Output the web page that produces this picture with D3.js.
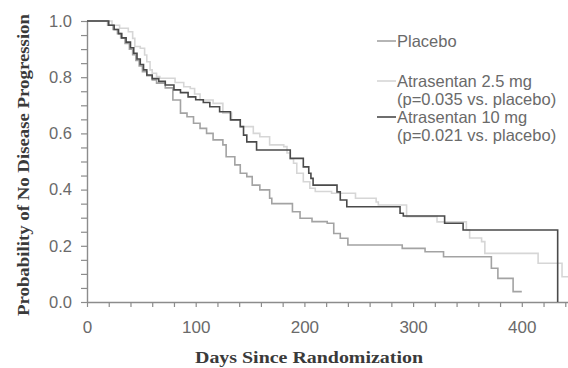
<!DOCTYPE html>
<html>
<head>
<meta charset="utf-8">
<script src="https://cdn.jsdelivr.net/npm/d3@7"></script>
<style>
  body { margin: 0; background: #fff; }
  svg { display: block; }
</style>
</head>
<body>
<div id="chart"></div>
<script>
let width = 568;
let height = 368;

// 数据: Kaplan-Meier 曲线 (天数, 无进展概率)
let placeboDays = [0, 19, 24, 28, 31, 35, 39, 42, 45, 48, 51, 55, 60, 64, 72, 79, 86, 92, 98, 104, 110, 116, 125, 128, 136, 141, 147, 152, 159, 168, 170, 189, 196, 207, 221, 227, 233, 240, 290, 311, 328, 372, 378, 392, 400];
let placeboSurv = [1.0, 0.985, 0.97, 0.955, 0.94, 0.92, 0.9, 0.88, 0.86, 0.84, 0.82, 0.805, 0.79, 0.779, 0.762, 0.719, 0.672, 0.659, 0.636, 0.618, 0.6, 0.577, 0.559, 0.517, 0.488, 0.458, 0.446, 0.416, 0.399, 0.369, 0.35, 0.321, 0.298, 0.286, 0.28, 0.244, 0.227, 0.203, 0.191, 0.179, 0.161, 0.12, 0.084, 0.037, 0.037];

let dose25Days = [0, 23, 30, 38, 42, 44, 49, 53, 55, 58, 60, 64, 67, 81, 89, 95, 99, 104, 116, 125, 133, 141, 153, 159, 168, 181, 184, 187, 190, 193, 199, 205, 210, 225, 247, 266, 268, 294, 322, 349, 352, 363, 366, 415, 437, 443];
let dose25Surv = [1.0, 0.985, 0.974, 0.962, 0.938, 0.909, 0.903, 0.879, 0.855, 0.826, 0.814, 0.802, 0.796, 0.781, 0.766, 0.76, 0.74, 0.719, 0.707, 0.672, 0.648, 0.624, 0.6, 0.588, 0.559, 0.553, 0.53, 0.51, 0.494, 0.458, 0.428, 0.405, 0.393, 0.387, 0.369, 0.356, 0.345, 0.304, 0.285, 0.256, 0.228, 0.215, 0.173, 0.138, 0.09, 0.09];

let dose10Days = [0, 20, 25, 29, 32, 36, 40, 43, 46, 49, 52, 55, 60, 66, 72, 80, 86, 93, 100, 107, 113, 122, 132, 141, 144, 147, 156, 187, 199, 204, 206, 208, 230, 233, 239, 288, 291, 329, 346, 433];
let dose10Surv = [1.0, 0.985, 0.97, 0.955, 0.94, 0.925, 0.905, 0.885, 0.865, 0.845, 0.826, 0.808, 0.795, 0.785, 0.772, 0.755, 0.745, 0.73, 0.72, 0.71, 0.695, 0.677, 0.648, 0.624, 0.594, 0.57, 0.541, 0.511, 0.481, 0.458, 0.44, 0.416, 0.392, 0.363, 0.339, 0.316, 0.306, 0.28, 0.256, 0];

let seriesNames = ["Placebo", "Atrasentan 2.5 mg", "Atrasentan 10 mg"];
let seriesNotes = ["", "(p=0.035 vs. placebo)", "(p=0.021 vs. placebo)"];
let seriesColors = ["#a3a3a3", "#d6d6d6", "#4a4a4a"];

let xTickValues = d3.range(0, 441, 20);
let yTickValues = d3.range(0, 1.0001, 0.05);

// 布局
let margin = {left: 87, right: 0, top: 21, bottom: 66};
let axis_color = "#8c8c8c";
let label_color = "#6a6a6a";
let title_color = "#3a3a3a";

let svg = d3.select("#chart").append("svg")
    .attr("width", width)
    .attr("height", height);

let x = d3.scaleLinear().domain([0, 442.5]).range([margin.left, width - margin.right]);
let y = d3.scaleLinear().domain([0, 1]).range([height - margin.bottom, margin.top]);

// x 轴
let xAxis = svg.append("g")
    .attr("transform", "translate(0," + y(0) + ")")
    .call(d3.axisBottom(x)
        .tickValues(xTickValues)
        .tickSize(5)
        .tickSizeOuter(0)
        .tickPadding(14)
        .tickFormat(d => d % 100 === 0 ? d : ""));

// y 轴
let yAxis = svg.append("g")
    .attr("transform", "translate(" + x(0) + ",0)")
    .call(d3.axisLeft(y)
        .tickValues(yTickValues)
        .tickSize(6)
        .tickSizeOuter(0)
        .tickPadding(9)
        .tickFormat(d => Math.abs(d * 5 - Math.round(d * 5)) < 1e-6 ? d3.format(".1f")(d) : ""));

svg.selectAll(".domain").attr("stroke", axis_color).attr("stroke-width", 1.4);
svg.selectAll(".tick line").attr("stroke", axis_color).attr("stroke-width", 1.2);
xAxis.selectAll("text")
    .style("font-family", "'Liberation Sans', Arial, sans-serif")
    .style("font-size", "17px")
    .attr("fill", label_color);
yAxis.selectAll("text")
    .style("font-family", "'Liberation Sans', Arial, sans-serif")
    .style("font-size", "16.5px")
    .attr("fill", label_color);

// 轴标题
svg.append("text")
    .attr("x", 309)
    .attr("y", 363)
    .attr("text-anchor", "middle")
    .attr("textLength", 228)
    .attr("lengthAdjust", "spacingAndGlyphs")
    .style("font-family", "'Liberation Serif', 'Times New Roman', serif")
    .style("font-weight", "bold")
    .style("font-size", "17px")
    .attr("fill", title_color)
    .text("Days Since Randomization");

svg.append("text")
    .attr("transform", "translate(29,165) rotate(-90)")
    .attr("text-anchor", "middle")
    .attr("textLength", 302)
    .attr("lengthAdjust", "spacingAndGlyphs")
    .style("font-family", "'Liberation Serif', 'Times New Roman', serif")
    .style("font-weight", "bold")
    .style("font-size", "17px")
    .attr("fill", title_color)
    .text("Probability of No Disease Progression");

// 曲线
let stepLine = d3.line()
    .x(d => x(d[0]))
    .y(d => y(d[1]))
    .curve(d3.curveStepAfter);

let curves = [
    d3.zip(placeboDays, placeboSurv),
    d3.zip(dose25Days, dose25Surv),
    d3.zip(dose10Days, dose10Surv)
];

// 先画浅色, 再画深色
[1, 0, 2].forEach(function(i) {
    svg.append("path")
        .datum(curves[i])
        .attr("d", stepLine)
        .attr("fill", "none")
        .attr("stroke", seriesColors[i])
        .attr("stroke-width", 1.6);
});

// 图例
let legendY = [41, 81, 117];
let legend = svg.append("g");
seriesNames.forEach(function(name, i) {
    legend.append("line")
        .attr("x1", 377)
        .attr("x2", 396)
        .attr("y1", legendY[i])
        .attr("y2", legendY[i])
        .attr("stroke", seriesColors[i])
        .attr("stroke-width", 1.6);
    legend.append("text")
        .attr("x", 397)
        .attr("y", legendY[i])
        .attr("dy", "0.35em")
        .style("font-family", "'Liberation Sans', Arial, sans-serif")
        .style("font-size", "16.5px")
        .attr("fill", label_color)
        .text(name);
    if (seriesNotes[i] !== "") {
        legend.append("text")
            .attr("x", 397)
            .attr("y", legendY[i] + 18.5)
            .attr("dy", "0.35em")
            .style("font-family", "'Liberation Sans', Arial, sans-serif")
            .style("font-size", "16.5px")
            .attr("fill", label_color)
            .text(seriesNotes[i]);
    }
});
</script>
</body>
</html>
